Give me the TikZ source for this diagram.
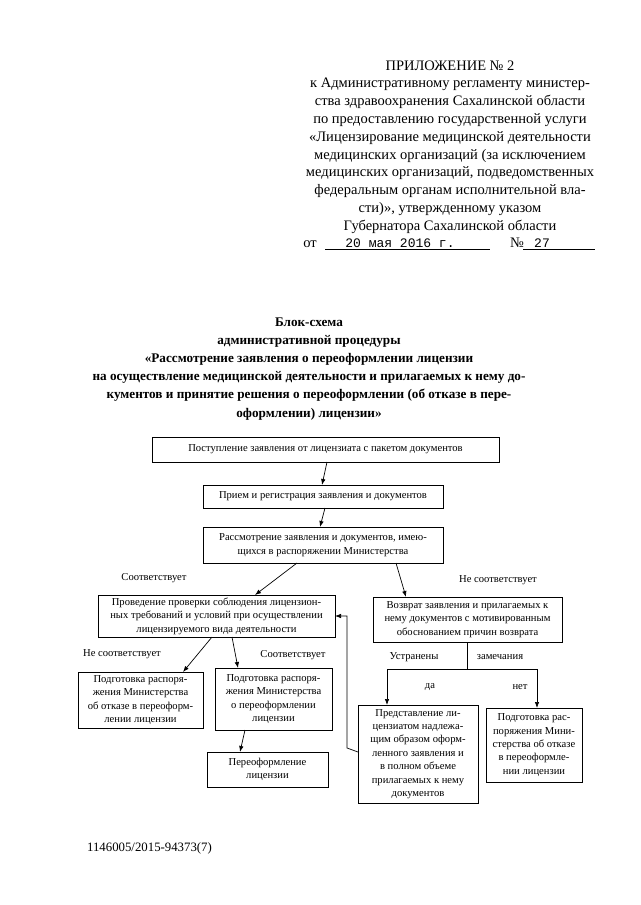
\documentclass[tikz,border=0pt]{standalone}
\usepackage{fontspec}
\setmainfont{Liberation Serif}
\newfontfamily\monofnt{Liberation Mono}
\usetikzlibrary{arrows.meta}
\newcommand\fsbox{\fontsize{10.6}{13.4}\selectfont}
\newcommand\fshdr{\fontsize{14.5}{17.8}\selectfont}
\newcommand\fsttl{\fontsize{13.2}{18.2}\selectfont\bfseries}
\begin{document}
\begin{tikzpicture}[x=1pt,y=-1pt,
  box/.style={draw, line width=0.8pt, inner sep=0pt, outer sep=0pt, align=center, font=\fsbox},
  arr/.style={line width=0.7pt, -{Latex[length=6pt,width=4.5pt]}},
  lnk/.style={line width=0.7pt},
  lbl/.style={font=\fsbox, inner sep=0pt},
  hdr/.style={font=\fshdr, inner sep=0pt, anchor=base},
  ttl/.style={font=\fsttl, inner sep=0pt, anchor=base}]
\useasboundingbox (0,0) rectangle (640,905);
\fill[white] (0,0) rectangle (640,905);
% header
\foreach \t [count=\i] in {{ПРИЛОЖЕНИЕ № 2},
  {к Административному регламенту министер-},
  {ства здравоохранения Сахалинской области},
  {по предоставлению государственной услуги},
  {«Лицензирование медицинской деятельности},
  {медицинских организаций (за исключением},
  {медицинских организаций, подведомственных},
  {федеральным органам исполнительной вла-},
  {сти)», утвержденному указом},
  {Губернатора Сахалинской области}}
  \node[hdr] (h\i) at (450, {65+17.8*(\i-1)+5}) {\t};
\node[hdr] (hot) at (310,247) {от};
\node[hdr, font=\monofnt\fontsize{13}{15}\selectfont] (hdate) at (400,247) {20 мая 2016 г.};
\node[hdr] (hno) at (517,247) {№};
\node[hdr, font=\monofnt\fontsize{13}{15}\selectfont] (hnum) at (542,247) {27};
\draw[line width=0.6pt] (325,249) -- (490,249);
\draw[line width=0.6pt] (523,249) -- (595,249);
% title
\foreach \t [count=\i] in {{Блок-схема},
  {административной процедуры},
  {«Рассмотрение заявления о переоформлении лицензии},
  {на осуществление медицинской деятельности и прилагаемых к нему до-},
  {кументов и принятие решения о переоформлении (об отказе в пере-},
  {оформлении) лицензии»}}
  \node[ttl] (t\i) at (309, {321+18.2*(\i-1)+5}) {\t};
% boxes
\node[box, minimum width=347, minimum height=25] (b1) at (325.5,449.5) {Поступление заявления от лицензиата с пакетом документов};
\node[box, minimum width=240, minimum height=23] (b2) at (323,496.5) {Прием и регистрация заявления и документов};
\node[box, minimum width=240, minimum height=36] (b3) at (323,545) {Рассмотрение заявления и документов, имею-\\щихся в распоряжении Министерства};
\node[box, minimum width=237, minimum height=42] (b4) at (216.5,616) {Проведение проверки соблюдения лицензион-\\ных требований и условий при осуществлении\\лицензируемого вида деятельности};
\node[box, minimum width=189, minimum height=45] (b5) at (467.5,619.5) {Возврат заявления и прилагаемых к\\нему документов с мотивированным\\обоснованием причин возврата};
\node[box, minimum width=125, minimum height=56] (b6) at (140.5,700) {Подготовка распоря-\\жения Министерства\\об отказе в переоформ-\\лении лицензии};
\node[box, minimum width=117, minimum height=62] (b7) at (273.5,699) {Подготовка распоря-\\жения Министерства\\о переоформлении\\лицензии};
\node[box, minimum width=121, minimum height=35] (b8) at (267.5,769.5) {Переоформление\\лицензии};
\node[box, minimum width=120, minimum height=98] (b9) at (418,754) {Представление ли-\\цензиатом надлежа-\\щим образом оформ-\\ленного заявления и\\в полном объеме\\прилагаемых к нему\\документов};
\node[box, minimum width=96, minimum height=74] (b10) at (534,745) {Подготовка рас-\\поряжения Мини-\\стерства об отказе\\в переоформле-\\нии лицензии};
% labels
\node[lbl] (l1) at (154,578) {Соответствует};
\node[lbl] (l2) at (498,580) {Не соответствует};
\node[lbl] (l3) at (122,654) {Не соответствует};
\node[lbl] (l4) at (293,655) {Соответствует};
\node[lbl] (l5) at (414,657) {Устранены};
\node[lbl] (l6) at (500,657) {замечания};
\node[lbl] (l7) at (430,687) {да};
\node[lbl] (l8) at (520,687) {нет};
% connectors
\draw[arr] ([xshift=1.5pt]b1.south) -- ([xshift=-1pt]b2.north);
\draw[arr] ([xshift=2pt]b2.south) -- ([xshift=-3pt]b3.north);
\draw[arr] ([xshift=-26pt]b3.south) -- ([xshift=38.5pt]b4.north);
\draw[arr] ([xshift=73pt]b3.south) -- ([xshift=-61.5pt]b5.north);
\draw[arr] ([xshift=-4.5pt]b4.south) -- ([xshift=42.5pt]b6.north);
\draw[arr] ([xshift=15.5pt]b4.south) -- ([xshift=-35.5pt]b7.north);
\draw[arr] ([xshift=-28.5pt]b7.south) -- ([xshift=-27.5pt]b8.north);
\coordinate (j) at (467.5,669);
\coordinate (jl) at (387,669);
\coordinate (jr) at (537,669);
\draw[lnk] (b5.south) -- (j);
\draw[lnk] (jl) -- (jr);
\draw[arr] (jl) -- (jl |- b9.north);
\draw[arr] (jr) -- (jr |- b10.north);
\coordinate (fb) at (347,748);
\draw[arr] ([yshift=2pt]b9.west) -- (fb) |- (b4.east);
% footer
\node[font=\fontsize{12.8}{15}\selectfont, inner sep=0pt] (ftr) at (149.5,848) {1146005/2015-94373(7)};
\end{tikzpicture}
\end{document}
